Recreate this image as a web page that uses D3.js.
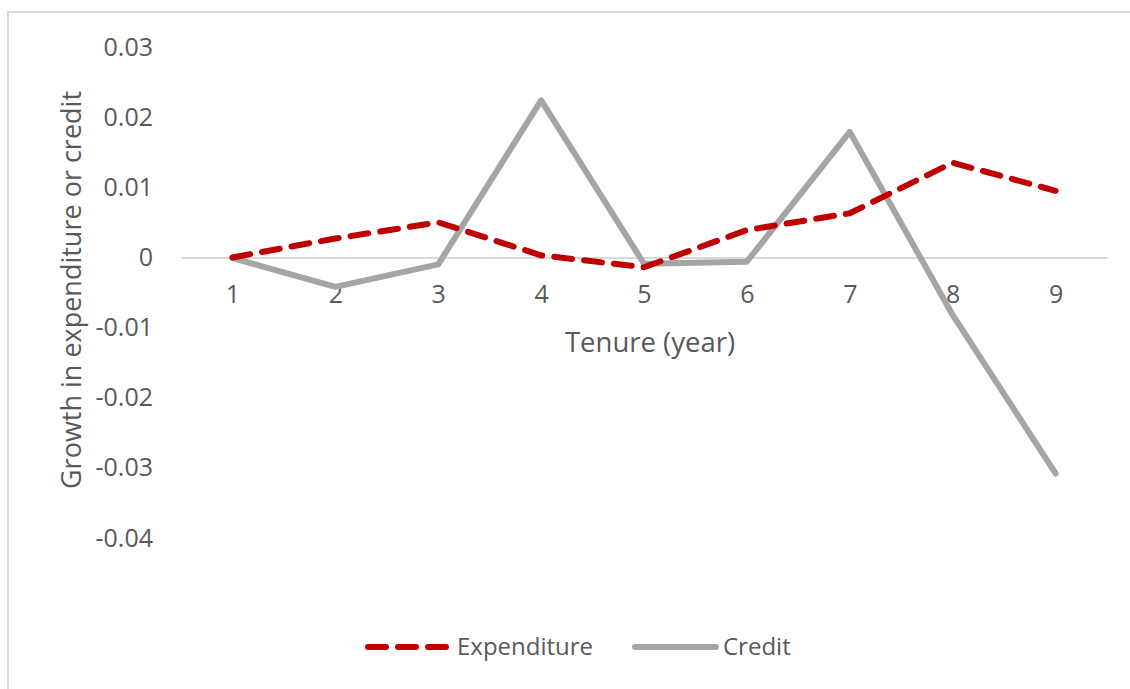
<!DOCTYPE html>
<html>
<head>
<meta charset="utf-8">
<script src="https://cdn.jsdelivr.net/npm/d3@7/dist/d3.min.js"></script>
<style>
  html, body { margin: 0; padding: 0; background: #fff; }
  svg { display: block; font-family: "Open Sans", "Noto Sans", sans-serif; }
</style>
</head>
<body>
<svg id="chart" width="1130" height="689"></svg>
<script>
const categories = ["1", "2", "3", "4", "5", "6", "7", "8", "9"];
const expenditure = [0.0000, 0.0027, 0.0050, 0.0003, -0.0014, 0.0039, 0.0063, 0.0135, 0.0095];
const credit = [-0.0001, -0.0042, -0.0010, 0.0224, -0.0009, -0.0006, 0.0179, -0.0082, -0.0308];
const yTicks = [0.03, 0.02, 0.01, 0, -0.01, -0.02, -0.03, -0.04];
const yTickLabels = ["0.03", "0.02", "0.01", "0", "-0.01", "-0.02", "-0.03", "-0.04"];
const seriesNames = ["Expenditure", "Credit"];

const svg = d3.select("#chart");
const textColor = "#595959";
const expColor = "#C00000";
const creditColor = "#A5A5A5";

// outer frame
svg.append("rect")
  .attr("x", 8).attr("y", 12)
  .attr("width", 1140).attr("height", 700)
  .attr("fill", "#fff")
  .attr("stroke", "#D9D9D9").attr("stroke-width", 2);

const x = d3.scalePoint().domain(categories).range([181, 1107]).padding(0.5);
const y = d3.scaleLinear().domain([-0.04, 0.03]).range([538, 47]);

// y axis labels
const yAxis = d3.axisLeft(y).tickValues(yTicks)
  .tickFormat((d, i) => yTickLabels[i]).tickSize(0).tickPadding(28);
const gy = svg.append("g").attr("transform", "translate(181,0)").call(yAxis);
gy.select(".domain").remove();
gy.selectAll("text").attr("fill", textColor).style("font-size", "25px")
  .style("font-family", '"Open Sans", sans-serif');

// x axis (zero line)
const xAxis = d3.axisBottom(x).tickSize(0).tickSizeOuter(0);
const gx = svg.append("g").attr("transform", `translate(0,${y(0)})`).call(xAxis);
gx.select(".domain").attr("stroke", "#D9D9D9").attr("stroke-width", 2);
gx.selectAll("text").attr("fill", textColor).style("font-size", "25px")
  .style("font-family", '"Open Sans", sans-serif')
  .attr("dy", null).attr("y", 46);

// axis titles
svg.append("text")
  .attr("x", 650).attr("y", 352)
  .attr("text-anchor", "middle")
  .attr("fill", textColor).style("font-size", "27.5px")
  .text("Tenure (year)");

svg.append("text")
  .attr("transform", "translate(81,290) rotate(-90)")
  .attr("text-anchor", "middle")
  .attr("fill", textColor).style("font-size", "27px")
  .text("Growth in expenditure or credit");

// lines
const line = d3.line()
  .x((d, i) => x(categories[i])).y(d => y(d));

svg.append("path").datum(credit)
  .attr("d", line)
  .attr("fill", "none").attr("stroke", creditColor)
  .attr("stroke-width", 6).attr("stroke-linejoin", "round").attr("stroke-linecap", "round");

svg.append("path").datum(expenditure)
  .attr("d", line)
  .attr("fill", "none").attr("stroke", expColor)
  .attr("stroke-width", 6).attr("stroke-linecap", "round").attr("stroke-linejoin", "round")
  .attr("stroke-dasharray", "18,12");

// legend
const legend = svg.append("g");
legend.append("line")
  .attr("x1", 368).attr("x2", 446).attr("y1", 647).attr("y2", 647)
  .attr("stroke", expColor).attr("stroke-width", 6)
  .attr("stroke-linecap", "round").attr("stroke-dasharray", "18,12");
legend.append("text")
  .attr("x", 457).attr("y", 647).attr("dy", "0.35em")
  .attr("fill", textColor).style("font-size", "24px")
  .text(seriesNames[0]);
legend.append("line")
  .attr("x1", 635).attr("x2", 716).attr("y1", 647).attr("y2", 647)
  .attr("stroke", creditColor).attr("stroke-width", 6)
  .attr("stroke-linecap", "round");
legend.append("text")
  .attr("x", 723).attr("y", 647).attr("dy", "0.35em")
  .attr("fill", textColor).style("font-size", "24px")
  .text(seriesNames[1]);
</script>
</body>
</html>
